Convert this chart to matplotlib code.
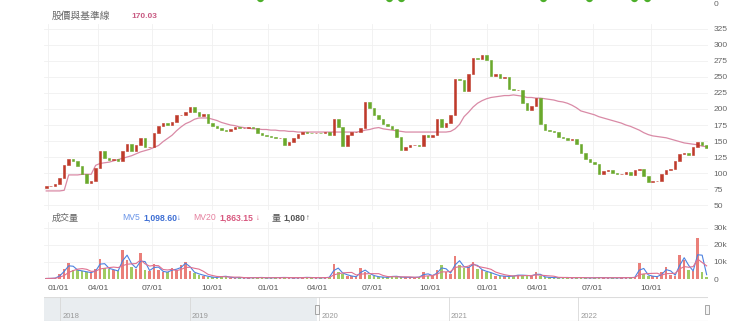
import numpy as np
import pandas as pd
import matplotlib
matplotlib.use("Agg")
import matplotlib.pyplot as plt
import matplotlib.dates as mdates
from matplotlib.patches import Rectangle
from matplotlib.ticker import FuncFormatter

plt.rcParams['font.family'] = ['Liberation Sans', 'Noto Sans CJK TC', 'DejaVu Sans']

# exchange closed days (weekdays) inside the window
holidays = ['2020-01-01', '2020-01-21', '2020-01-22', '2020-01-23', '2020-01-24',
            '2020-01-27', '2020-01-28', '2020-01-29', '2020-02-28', '2020-04-02',
            '2020-04-03', '2020-05-01', '2020-06-25', '2020-06-26', '2020-10-01',
            '2020-10-02', '2020-10-09',
            '2021-01-01', '2021-02-08', '2021-02-09', '2021-02-10', '2021-02-11',
            '2021-02-12', '2021-02-15', '2021-02-16', '2021-03-01', '2021-04-02',
            '2021-04-05', '2021-04-30', '2021-06-14', '2021-09-20', '2021-09-21',
            '2021-10-11', '2021-12-31',
            '2022-01-27', '2022-01-28', '2022-01-31', '2022-02-01', '2022-02-02',
            '2022-02-03', '2022-02-04', '2022-02-28', '2022-04-04', '2022-04-05',
            '2022-05-02', '2022-06-03', '2022-09-09', '2022-10-10']

# one value per 5 trading sessions
first_open = 77
close = [79, 80, 83, 92, 112, 122, 118, 111, 98, 84,
         88, 108, 134, 124, 120, 122, 119, 134, 146, 134,
         144, 154, 140, 141, 162, 173, 178, 175, 180, 190,
         190, 196, 203, 196, 189, 192, 178, 173, 170, 167,
         166, 168, 172, 170, 171, 172, 170, 162, 160, 158,
         157, 155, 155, 143, 149, 155, 161, 164, 163, 162,
         163, 162, 164, 159, 184, 172, 142, 160, 164, 164,
         170, 211, 202, 190, 184, 176, 174, 168, 156, 136,
         141, 144, 144, 142, 160, 156, 160, 184, 172, 178,
         190, 247, 245, 228, 254, 280, 278, 284, 276, 252,
         255, 248, 250, 232, 230, 230, 209, 199, 205, 217,
         176, 167, 165, 164, 156, 155, 152, 153, 145, 132,
         122, 117, 114, 99, 103, 104, 100, 98, 99, 102,
         97, 104, 106, 95, 86, 87, 88, 99, 104, 107,
         118, 130, 132, 128, 140, 149, 143, 139]

baseline = [72, 72, 72, 72, 73, 97, 97, 97, 98, 98,
            98, 112, 115, 116, 117, 119, 121, 123, 125, 127,
            130, 133, 135, 137, 140, 143, 149, 154, 159, 166,
            172, 177, 180, 184, 186, 186, 186, 184, 182, 179,
            177, 175, 174, 172, 171, 170, 169, 169, 168, 168,
            167, 167, 166, 166, 165, 165, 164, 164, 164, 164,
            164, 164, 164, 164, 164, 164, 164, 164, 164, 164,
            165, 167, 168, 170, 171, 169, 168, 167, 166, 165,
            164, 164, 164, 164, 164, 164, 164, 164, 164, 164,
            165, 169, 176, 188, 195, 203, 209, 213, 216, 218,
            219, 220, 221, 221, 222, 221, 220, 218, 218, 217,
            217, 216, 215, 214, 212, 211, 209, 206, 202, 197,
            195, 193, 191, 188, 186, 184, 182, 180, 178, 175,
            173, 170, 167, 163, 160, 158, 157, 156, 155, 153,
            151, 149, 147, 146, 145, 144, 142, 141]

# volume in thousands
volume = [0.3, 0.4, 0.6, 3.0, 6.0, 9.5, 5.5, 5.0, 4.5, 4.0,
          3.5, 6.0, 11.5, 6.5, 6.0, 5.0, 4.5, 17.0, 11.0, 7.0,
          6.0, 15.0, 5.5, 4.5, 9.0, 5.0, 4.0, 4.0, 6.5, 5.0,
          8.5, 10.0, 4.5, 3.5, 2.5, 2.0, 1.2, 1.0, 0.8, 2.0,
          1.2, 0.8, 0.7, 0.9, 0.6, 0.8, 0.7, 1.0, 0.8, 0.6,
          0.7, 0.9, 0.8, 1.0, 0.7, 0.6, 0.8, 0.9, 1.0, 0.7,
          0.8, 0.6, 0.9, 1.1, 8.8, 4.0, 3.0, 2.0, 1.5, 1.2,
          6.5, 4.0, 2.5, 1.5, 1.2, 1.0, 1.0, 2.0, 1.2, 1.0,
          1.0, 0.9, 1.0, 1.2, 4.0, 2.0, 2.0, 5.0, 8.0, 4.0,
          3.0, 13.5, 8.0, 6.5, 7.0, 10.0, 6.0, 5.0, 4.0, 3.5,
          2.0, 1.8, 1.5, 1.5, 2.0, 2.5, 2.0, 2.2, 1.5, 4.0,
          1.5, 1.0, 0.9, 0.8, 0.7, 1.0, 0.8, 0.7, 0.9, 0.8,
          0.7, 0.6, 0.8, 0.9, 0.7, 0.8, 0.6, 0.7, 0.8, 0.7,
          0.9, 1.0, 9.4, 3.0, 1.8, 1.5, 1.3, 4.0, 7.0, 2.5,
          2.0, 14.0, 11.0, 5.0, 4.5, 24.0, 4.0, 1.08]

signal_dates = ['2020-12-21', '2021-07-28', '2021-08-16', '2022-04-13',
                '2022-06-27', '2022-09-05', '2022-09-27']
years = ['2018', '2019', '2020', '2021', '2022']

sessions = pd.bdate_range('2019-12-26', '2022-12-30')
sessions = sessions[~sessions.isin(pd.to_datetime(holidays))]
n = len(sessions)

close = np.array(close, dtype=float)
opens = np.r_[first_open, close[:-1]]
pos = np.arange(len(close)) * 5 + 2
up = close >= opens
RED, GREEN = '#bf3a2b', '#6aa92c'
candle_col = np.where(up, RED, GREEN)

quarters = pd.date_range('2020-01-01', '2022-10-01', freq='QS')
qpos = np.searchsorted(sessions, quarters)
qlab = [d.strftime('%m/%d') for d in quarters]

W, H = 740, 332
fig = plt.figure(figsize=(W / 100, H / 100), dpi=100)
fig.patch.set_facecolor('white')


def box(x0, y0, x1, y1):
    return [x0 / W, 1 - y1 / H, (x1 - x0) / W, (y1 - y0) / H]


def clean(a):
    for s in a.spines.values():
        s.set_visible(False)
    a.set_facecolor('none')


GRID = '#f0f0f0'
TICK = dict(labelsize=6, labelcolor='#666', length=0)

# strip of the panel above, mostly cut off
ax_top = fig.add_axes(box(44, -26, 708, 4))
clean(ax_top)
ax_top.set_xlim(-0.5, n - 0.5)
ax_top.set_ylim(0, 10)
sig = np.searchsorted(sessions, pd.to_datetime(signal_dates))
ax_top.scatter(sig, np.full(len(sig), 2.0), s=28, color='#4caf2a', lw=0)
ax_top.set_xticks([])
ax_top.yaxis.tick_right()
ax_top.set_yticks([0])
ax_top.tick_params(axis='y', pad=4, **TICK)

# price + baseline
ax = fig.add_axes(box(44, 24, 708, 210))
clean(ax)
ax.set_xlim(-0.5, n - 0.5)
ax.set_ylim(42.2, 332.8)
ax.bar(pos, close - opens, bottom=opens, width=2.8, color=candle_col,
       edgecolor=candle_col, linewidth=0.4, zorder=3)
ax.plot(pos, baseline, color='#d98aa6', lw=0.9, zorder=2)
ax.yaxis.tick_right()
ax.set_yticks(range(50, 326, 25))
ax.set_xticks(qpos)
ax.tick_params(axis='x', length=0, labelbottom=False)
ax.tick_params(axis='y', pad=4, **TICK)
ax.grid(True, color=GRID, lw=0.6, zorder=0)

fig.text(52 / W, 1 - 16 / H, '股價與基準線', fontsize=7, color='#666', va='center')
fig.text(131 / W, 1 - 16 / H, '170.03', fontsize=6, color='#c85a82',
         va='center', weight='bold')

# volume
axv = fig.add_axes(box(44, 222, 708, 279))
clean(axv)
axv.set_xlim(-0.5, n - 0.5)
axv.set_ylim(0, 33.5)
vol_col = np.where(up, '#e8716b', '#96c652')
axv.bar(pos, volume, width=2.8, color=vol_col, alpha=0.9, zorder=3)
vs = pd.Series(volume)
axv.plot(pos, vs.rolling(2, min_periods=1).mean(), color='#4d82e0', lw=0.8, zorder=4)
axv.plot(pos, vs.rolling(5, min_periods=1).mean(), color='#e0708f', lw=0.8, zorder=4)
axv.yaxis.tick_right()
axv.set_yticks([0, 10, 20, 30])
axv.yaxis.set_major_formatter(FuncFormatter(lambda v, _: '0' if v == 0 else f'{v:g}k'))
axv.set_xticks(qpos)
axv.set_xticklabels(qlab)
axv.tick_params(axis='y', pad=4, **TICK)
axv.tick_params(axis='x', pad=4, labelsize=6, labelcolor='#555', length=0)
axv.grid(True, color=GRID, lw=0.6, zorder=0)
# first date label sits just inside the plot edge
axv.get_xticklabels()[0].set_horizontalalignment('left')

ty = 1 - 218 / H
fig.text(52 / W, ty, '成交量', fontsize=6.5, color='#666', va='center')
fig.text(122 / W, ty, 'MV5', fontsize=6.2, color='#6a95e8', va='center')
fig.text(143 / W, ty, '1,098.60', fontsize=6.2, color='#3e6fd4', va='center', weight='bold')
fig.text(177 / W, ty, '↓', fontsize=5.5, color='#3e6fd4', va='center')
fig.text(193 / W, ty, 'MV20', fontsize=6.2, color='#e5809f', va='center')
fig.text(219 / W, ty, '1,863.15', fontsize=6.2, color='#d8587f', va='center', weight='bold')
fig.text(256 / W, ty, '↓', fontsize=5.5, color='#d8587f', va='center')
fig.text(272 / W, ty, '量', fontsize=6.5, color='#555', va='center')
fig.text(283 / W, ty, f'{volume[-1] * 1000:,.0f}', fontsize=6.2, color='#555',
         va='center', weight='bold')
fig.text(306 / W, ty, '↑', fontsize=5.5, color='#555', va='center')

# navigator
axn = fig.add_axes(box(44, 297, 708, 321))
clean(axn)
nav_start, nav_end = pd.Timestamp('2017-11-16'), pd.Timestamp('2023-01-02')
axn.set_xlim(nav_start, nav_end)
axn.set_ylim(0, 1)
axn.axvspan(nav_start, sessions[0], color='#e9edf0', lw=0)
axn.axhline(1, color='#dcdcdc', lw=0.8)
axn.axhline(0, color='#cfcfcf', lw=0.8)
for y in years:
    d = pd.Timestamp(f'{y}-01-01')
    axn.axvline(d, color='#d8d8d8', lw=0.6)
    axn.text(d + pd.Timedelta(days=6), 0.2, y, fontsize=5.5, color='#999', va='center')
tr = axn.get_xaxis_transform()
for d in (sessions[0], sessions[-1]):
    x0 = mdates.date2num(d) - 5
    axn.add_patch(Rectangle((x0, 0.3), 10, 0.38, transform=tr, facecolor='#f4f4f4',
                            edgecolor='#999', lw=0.6, zorder=5, clip_on=False))
axn.set_xticks([])
axn.set_yticks([])

fig.savefig('out.png', dpi=100, facecolor='white')
